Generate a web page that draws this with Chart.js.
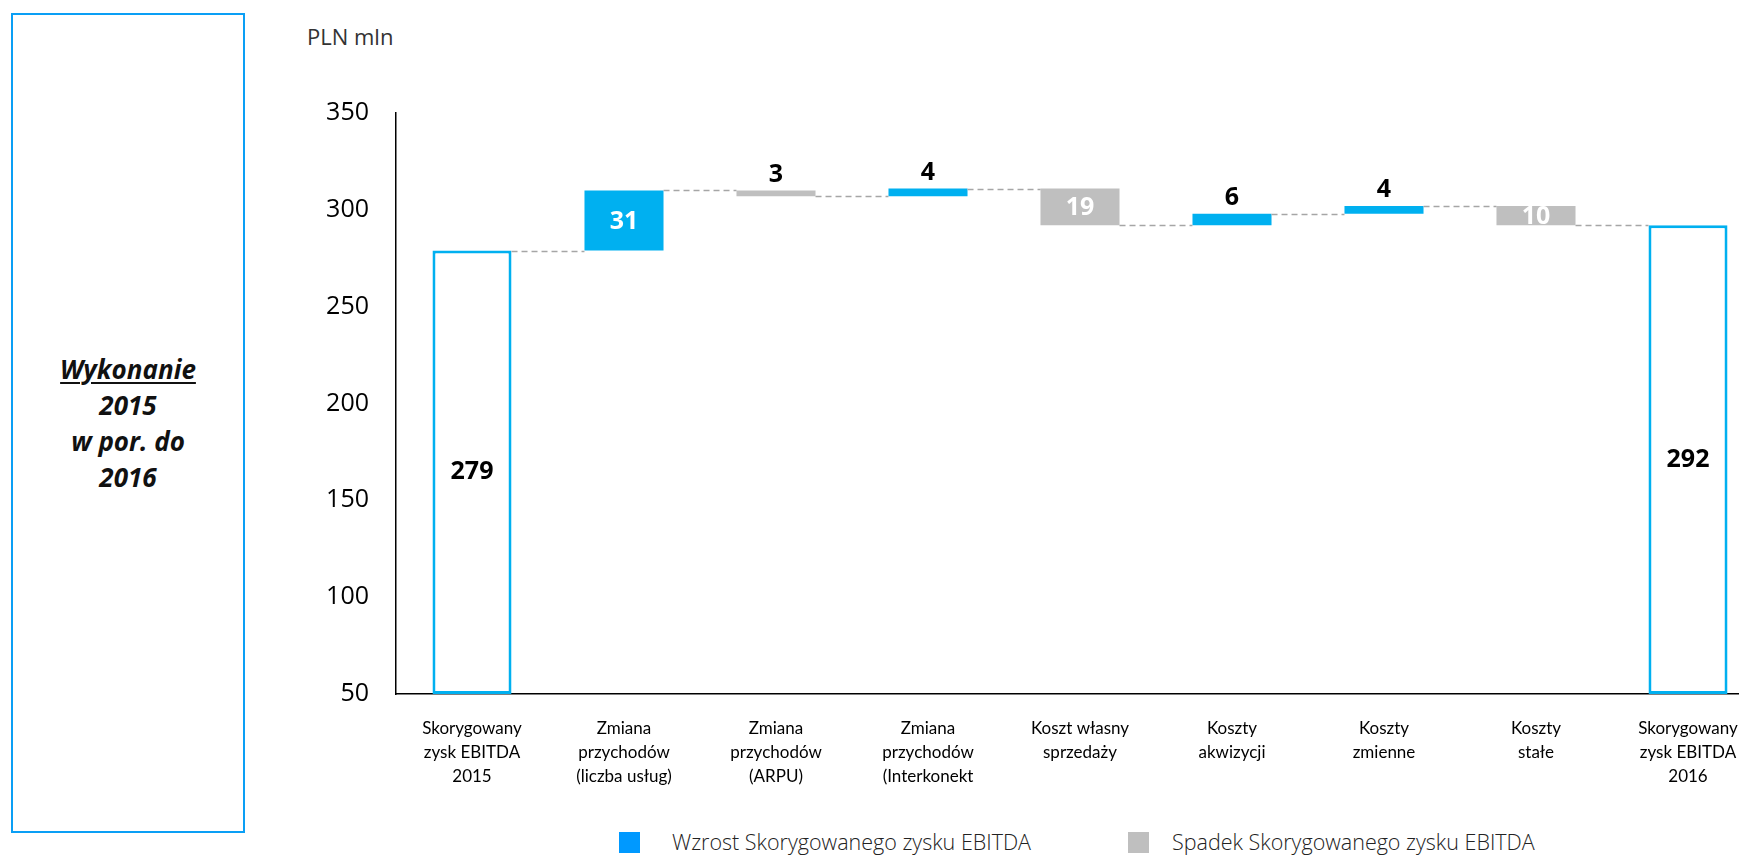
<!DOCTYPE html>
<html lang="pl">
<head>
<meta charset="UTF-8">
<title>EBITDA 2015 - 2016</title>
<script src="https://cdn.jsdelivr.net/npm/chart.js"></script>
<style>
	html, body { margin: 0; padding: 0; background: #fff; overflow: hidden; width: 1739px; height: 855px; }
	.side {
		position: absolute; left: 11px; top: 13px; width: 234px; height: 820px;
		box-sizing: border-box; border: 2px solid #0A9FF5;
		display: flex; align-items: center; justify-content: center; text-align: center;
		font-family: "Open Sans", sans-serif; font-weight: 700; font-style: italic;
		font-size: 26px; line-height: 36px; color: #111;
	}
	.side u { text-decoration-thickness: 2px; text-underline-offset: 3px; }
	.unit { position: absolute; left: 307px; top: 21px; font-family: "Open Sans", sans-serif; font-size: 22px; color: #333; }
	.box { position: absolute; top: 832px; width: 21px; height: 21px; }
	.ltxt { position: absolute; top: 827px; font-family: "Open Sans", sans-serif; font-weight: 300; font-size: 21.5px; color: #222; white-space: nowrap; }
	#wrap { position: absolute; left: 250px; top: 0; width: 1530px; height: 855px; }
</style>
</head>
<body>
	<div class="side"><div><u>Wykonanie</u><br>2015<br>w por. do<br>2016</div></div>
	<div class="unit">PLN mln</div>

	<div class="box" style="left:619px; background:#0099FF;"></div>
	<div class="ltxt" style="left:672px;">Wzrost Skorygowanego zysku EBITDA</div>
	<div class="box" style="left:1128px; background:#BFBFBF;"></div>
	<div class="ltxt" style="left:1172px;">Spadek Skorygowanego zysku EBITDA</div>

	<div id="wrap"><canvas id="myChart"></canvas></div>

	<script>
		const categories = [
			["Skorygowany", "zysk EBITDA", "2015"],
			["Zmiana", "przychodów", "(liczba usług)"],
			["Zmiana", "przychodów", "(ARPU)"],
			["Zmiana", "przychodów", "(Interkonekt"],
			["Koszt własny", "sprzedaży"],
			["Koszty", "akwizycji"],
			["Koszty", "zmienne"],
			["Koszty", "stałe"],
			["Skorygowany", "zysk EBITDA", "2016"]
		];
		const startTotal = 279;
		const endTotal = 292;
		const changes = [31, -3, 4, -19, 6, 4, -10];
		const yMin = 50;
		const yMax = 350;
		const yStep = 50;

		const blue = "#00B0F0";
		const grey = "#BFBFBF";

		// build floating bars from the changes
		const totals = categories.map(() => null);
		const totalLabels = categories.map(() => null);
		totals[0] = [yMin, startTotal];
		totals[categories.length - 1] = [yMin, endTotal];
		totalLabels[0] = startTotal;
		totalLabels[categories.length - 1] = endTotal;

		const rises = [null], falls = [null], riseLabels = [null], fallLabels = [null];
		const levels = [startTotal];
		let run = startTotal;
		changes.forEach(c => {
			const from = run;
			run += c;
			const range = [Math.min(from, run), Math.max(from, run)];
			if (c > 0) {
				rises.push(range); falls.push(null);
				riseLabels.push(c); fallLabels.push(null);
			} else {
				falls.push(range); rises.push(null);
				fallLabels.push(-c); riseLabels.push(null);
			}
			levels.push(run);
		});
		rises.push(null); falls.push(null); riseLabels.push(null); fallLabels.push(null);

		const connectors = {
			id: "connectors",
			afterDatasetsDraw(chart) {
				const x = chart.scales.x, y = chart.scales.y, ctx = chart.ctx;
				const half = chart.getDatasetMeta(0).data[0].width / 2;
				ctx.save();
				ctx.strokeStyle = "#A6A6A6";
				ctx.lineWidth = 1.5;
				ctx.setLineDash([6, 4]);
				for (let i = 0; i < levels.length; i++) {
					const py = Math.round(y.getPixelForValue(levels[i])) + 0.5;
					ctx.beginPath();
					ctx.moveTo(x.getPixelForValue(i) + half, py);
					ctx.lineTo(x.getPixelForValue(i + 1) - half, py);
					ctx.stroke();
				}
				ctx.restore();
			}
		};

		const valueLabels = {
			id: "valueLabels",
			afterDatasetsDraw(chart) {
				const ctx = chart.ctx;
				ctx.save();
				ctx.font = "700 25px 'Open Sans'";
				ctx.textAlign = "center";
				ctx.textBaseline = "middle";
				chart.data.datasets.forEach((ds, di) => {
					const meta = chart.getDatasetMeta(di);
					meta.data.forEach((el, i) => {
						const v = ds.labelValues[i];
						if (v === null) return;
						const p = el.getProps(["x", "y", "base"], true);
						const top = Math.min(p.y, p.base);
						const mid = (p.y + p.base) / 2;
						if (ds.isTotal) {
							ctx.fillStyle = "#000";
							ctx.fillText(v, p.x, mid);
						} else if (v >= 10) {
							ctx.fillStyle = "#fff";
							ctx.fillText(v, p.x, mid + 1);
						} else {
							ctx.fillStyle = "#000";
							ctx.fillText(v, p.x, top - 16);
						}
					});
				});
				ctx.restore();
			}
		};

		const config = {
			type: "bar",
			data: {
				labels: categories,
				datasets: [
					{
						label: "Total",
						data: totals,
						labelValues: totalLabels,
						isTotal: true,
						backgroundColor: "#fff",
						borderColor: blue,
						borderWidth: 3,
						borderSkipped: false
					},
					{
						label: "Wzrost Skorygowanego zysku EBITDA",
						data: rises,
						labelValues: riseLabels,
						backgroundColor: blue,
						borderWidth: 0
					},
					{
						label: "Spadek Skorygowanego zysku EBITDA",
						data: falls,
						labelValues: fallLabels,
						backgroundColor: grey,
						borderWidth: 0
					}
				]
			},
			options: {
				responsive: true,
				maintainAspectRatio: false,
				animation: false,
				datasets: { bar: { grouped: false, categoryPercentage: 1, barPercentage: 0.52 } },
				layout: { padding: { top: 113, right: 16, bottom: 0, left: 0 } },
				plugins: { legend: { display: false }, tooltip: { enabled: false } },
				scales: {
					x: {
						grid: { display: false, drawTicks: false },
						border: { display: true, color: "#000", width: 1.5 },
						ticks: {
							autoSkip: false, maxRotation: 0, padding: 23, color: "#000",
							font: { family: "Lato", size: 17, lineHeight: 1.4 }
						},
						afterFit: s => { s.height = 161; }
					},
					y: {
						min: yMin, max: yMax,
						grid: { display: false, drawTicks: false },
						border: { display: true, color: "#000", width: 1.5 },
						ticks: {
							stepSize: yStep, padding: 27, color: "#000",
							font: { family: "Open Sans", size: 25 }
						},
						afterFit: s => { s.width = 146; }
					}
				}
			},
			plugins: [connectors, valueLabels]
		};

		const myChart = new Chart(document.getElementById("myChart"), config);
	</script>
</body>
</html>
